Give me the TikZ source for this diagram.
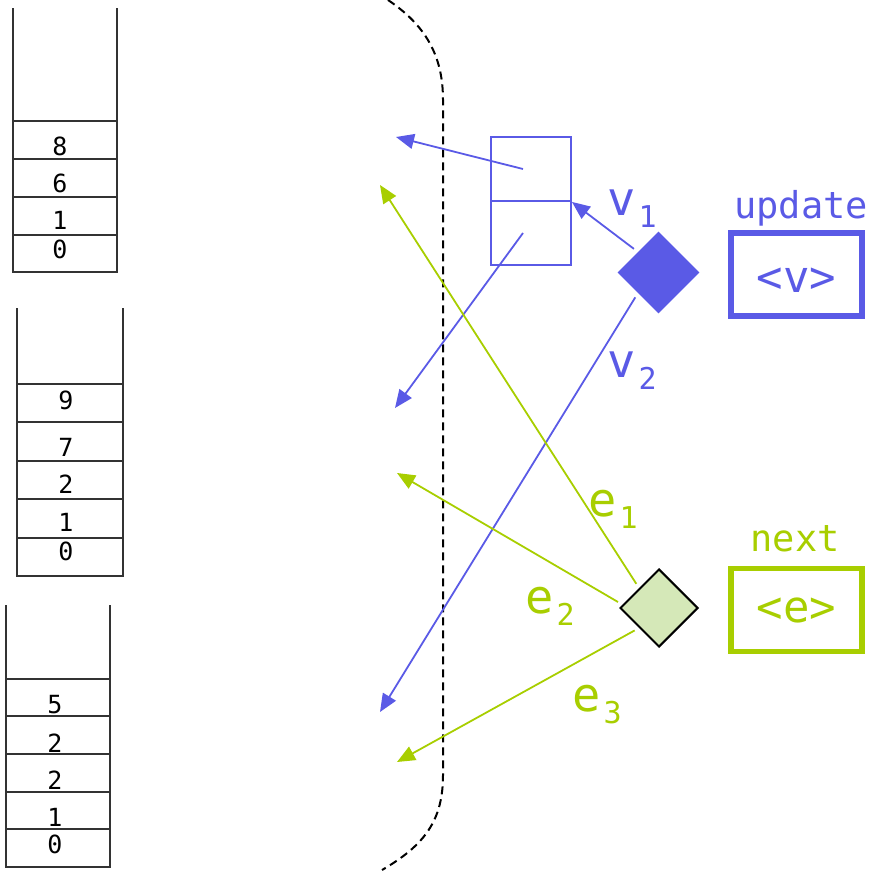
\documentclass[tikz,border=0pt]{standalone}
\usepackage{fontspec}
\setmonofont{DejaVu Sans Mono}
\usetikzlibrary{shapes.geometric, arrows.meta, positioning}
\definecolor{vblue}{RGB}{90,90,230}
\definecolor{egreen}{RGB}{168,206,0}
\definecolor{efill}{RGB}{213,232,184}
\tikzstyle{stack} = [line width=1.2pt, draw=black!80]
\tikzstyle{num} = [inner sep=0pt, font=\ttfamily\fontsize{25}{25}\selectfont]
\tikzstyle{cell} = [rectangle, minimum width=80pt, minimum height=64pt, draw=vblue, line width=1.8pt]
\tikzstyle{vdec} = [diamond, minimum width=82pt, minimum height=82pt, inner sep=0pt, fill=vblue]
\tikzstyle{edec} = [diamond, minimum width=78pt, minimum height=78pt, inner sep=0pt, draw=black, line width=2pt, fill=efill]
\tikzstyle{tag} = [rectangle, minimum width=131pt, minimum height=83pt, line width=5.5pt, font=\ttfamily\fontsize{44}{44}\selectfont]
\tikzstyle{word} = [inner sep=0pt, font=\ttfamily\fontsize{37}{37}\selectfont]
\tikzstyle{lab} = [inner sep=0pt, anchor=base west, font=\ttfamily]
\tikzstyle{varrow} = [draw=vblue, line width=1.8pt, -{Triangle[length=18pt,width=15pt]}]
\tikzstyle{earrow} = [draw=egreen, line width=1.8pt, -{Triangle[length=18pt,width=15pt]}]
% letter with a lowered index
\newcommand{\sublab}[2]{\fontsize{47}{47}\selectfont #1\kern3pt\raisebox{-12pt}{\fontsize{30}{30}\selectfont #2}}

\begin{document}
\begin{tikzpicture}[x=1pt, y=-1pt]
		\useasboundingbox (0,0) rectangle (877,870);

		% three stacks
		\draw [stack] (13,8) -- (13,272) -- (117,272) -- (117,8);
		\draw [stack] (13,121) -- (117,121) (13,159) -- (117,159) (13,197) -- (117,197) (13,235) -- (117,235);
		\node (a8) [num] at (60,146) {8};
		\node (a6) [num] at (60,183) {6};
		\node (a1) [num] at (60,220) {1};
		\node (a0) [num] at (60,249) {0};

		\draw [stack] (17,308) -- (17,576) -- (123,576) -- (123,308);
		\draw [stack] (17,384) -- (123,384) (17,422) -- (123,422) (17,461) -- (123,461) (17,499) -- (123,499) (17,538) -- (123,538);
		\node (b9) [num] at (66,400) {9};
		\node (b7) [num] at (66,447) {7};
		\node (b2) [num] at (66,484) {2};
		\node (b1) [num] at (66,522) {1};
		\node (b0) [num] at (66,551) {0};

		\draw [stack] (6,605) -- (6,867) -- (110,867) -- (110,605);
		\draw [stack] (6,679) -- (110,679) (6,716) -- (110,716) (6,754) -- (110,754) (6,792) -- (110,792) (6,829) -- (110,829);
		\node (c5) [num] at (55,705) {5};
		\node (c2) [num] at (55,743) {2};
		\node (c2b) [num] at (55,780) {2};
		\node (c1) [num] at (55,817) {1};
		\node (c0) [num] at (55,844) {0};

		% the cut
		\draw [dashed, line width=2pt, dash pattern=on 8pt off 5pt] (388,0) .. controls (425,25) and (443,55) .. (443,100) -- (443,775) .. controls (443,820) and (425,845) .. (382,870);

		% vertex side
		\node (vtop) [cell] at (531,169) {};
		\node (vbot) [cell] at (531,233) {};
		\node (dv) [vdec] at (658.5,272.5) {};
		\node (vbox) [tag, draw=vblue, text=vblue, text height=36pt, text depth=0pt] at (796.5,274.5) {<v>};
		\node (upd) [word, text=vblue, above=4pt of vbox, xshift=4.5pt] {update};

		% edge side
		\node (dg) [edec] at (659,608) {};
		\node (ebox) [tag, draw=egreen, text=egreen] at (796.5,610) {<e>};
		\node (nxt) [word, text=egreen, above=14pt of ebox, xshift=-1.5pt] {next};

		\coordinate (t1) at (396,137);
		\coordinate (t2) at (395,408);
		\coordinate (t3) at (380,712);
		\coordinate (t4) at (380,185);
		\coordinate (t5) at (397,473);
		\coordinate (t6) at (397,762);

		\draw [varrow] ([xshift=-8pt]vtop.center) -- (t1);
		\draw [varrow] ([xshift=-8pt]vbot.center) -- (t2);
		\draw [varrow, shorten <=5pt] (dv.north west) -- (vtop.south east);
		\draw [varrow, shorten <=5pt] (dv.south west) -- (t3);
		\draw [earrow, shorten <=5pt] (dg.north west) -- (t4);
		\draw [earrow] ([xshift=-1pt, yshift=6pt]dg.west) -- (t5);
		\draw [earrow, shorten <=5pt] (dg.south west) -- (t6);

		\node (v1) [lab, text=vblue] at (607,215) {\sublab{v}{1}};
		\node (v2) [lab, text=vblue] at (607,377) {\sublab{v}{2}};
		\node (e1) [lab, text=egreen] at (588,516) {\sublab{e}{1}};
		\node (e2) [lab, text=egreen] at (525,613) {\sublab{e}{2}};
		\node (e3) [lab, text=egreen] at (572,711) {\sublab{e}{3}};
	\end{tikzpicture}
\end{document}
